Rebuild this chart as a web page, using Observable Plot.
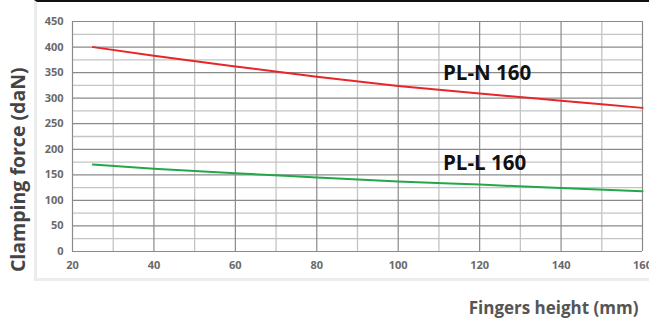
<!DOCTYPE html>
<html>
<head>
<meta charset="utf-8">
<script src="https://cdn.jsdelivr.net/npm/d3@7"></script>
<script src="https://cdn.jsdelivr.net/npm/@observablehq/plot@0.6"></script>
<style>
  html, body { margin: 0; padding: 0; background: #fff; }
  #wrap { position: relative; width: 649px; height: 327px; overflow: hidden; font-family: "Open Sans", sans-serif; }
  #box { position: absolute; left: 34px; top: 0; width: 640px; height: 281px; border-left: 3px solid #ececec; border-bottom: 3px solid #ececec; border-top: 2px solid #111; box-sizing: border-box; pointer-events: none; }
  #chart { position: absolute; left: 0; top: 0; }
</style>
</head>
<body>
<div id="wrap"><div id="box"></div><div id="chart"></div></div>
<script>
const heights = [25, 40, 60, 80, 100, 120, 140, 160];
const plN160 = [400, 383, 362, 342, 324, 309, 295, 281];
const plL160 = [170, 162, 153, 145, 137, 131, 124, 118];
const xTicks = [20, 40, 60, 80, 100, 120, 140, 160];
const yTicks = [0, 50, 100, 150, 200, 250, 300, 350, 400, 450];
const seriesNames = ["PL-N 160", "PL-L 160"];
const seriesColors = ["#e8262a", "#22a84a"];
const labelPos = [[111, 348], [111, 172]];
const xTitle = "Fingers height (mm)";
const yTitle = "Clamping force (daN)";

const rows = [];
heights.forEach((h, i) => {
  rows.push({series: seriesNames[0], x: h, y: plN160[i]});
  rows.push({series: seriesNames[1], x: h, y: plL160[i]});
});
const xMinor = d3.range(20, 161, 10);
const yMinor = d3.range(0, 451, 25);

const chart = Plot.plot({
  width: 649,
  height: 327,
  marginLeft: 72,
  marginRight: 7,
  marginTop: 21,
  marginBottom: 76,
  style: {background: "transparent", overflow: "visible", fontFamily: "Open Sans, sans-serif"},
  x: {domain: [20, 160]},
  y: {domain: [0, 450]},
  color: {domain: seriesNames, range: seriesColors},
  marks: [
    Plot.ruleX(xMinor.filter(v => v % 20 !== 0), {stroke: "#c4c4c4", strokeWidth: 1.3, strokeOpacity: 1}),
    Plot.ruleY(yMinor.filter(v => v % 50 !== 0), {stroke: "#c4c4c4", strokeWidth: 1.3, strokeOpacity: 1}),
    Plot.ruleX(xTicks, {stroke: "#8a8a8a", strokeWidth: 1.2, strokeOpacity: 1}),
    Plot.ruleY(yTicks, {stroke: "#8a8a8a", strokeWidth: 1.2, strokeOpacity: 1}),
    Plot.axisX({ticks: xTicks, tickSize: 0, tickPadding: 10, label: null, fontSize: 11, fontWeight: "bold", color: "#6a6a6a"}),
    Plot.axisY({ticks: yTicks, tickSize: 0, tickPadding: 9, label: null, fontSize: 11, fontWeight: "bold", color: "#6a6a6a"}),
    Plot.line(rows, {x: "x", y: "y", stroke: "series", z: "series", strokeWidth: 2, curve: "monotone-x"}),
    Plot.text(seriesNames, {x: (d, i) => labelPos[i][0], y: (d, i) => labelPos[i][1], text: d => d, textAnchor: "start", fontSize: 20.5, fontWeight: "bold", fill: "#111"}),
    Plot.text([xTitle], {frameAnchor: "bottom-right", dx: -4, dy: 62, textAnchor: "end", fontSize: 17, fontWeight: "bold", fill: "#555", letterSpacing: "-0.3px"}),
    Plot.text([yTitle], {x: 6.8, y: 160, rotate: -90, fontSize: 19.5, fontWeight: "bold", fill: "#444"})
  ]
});
document.getElementById("chart").appendChild(chart);
</script>
</body>
</html>
